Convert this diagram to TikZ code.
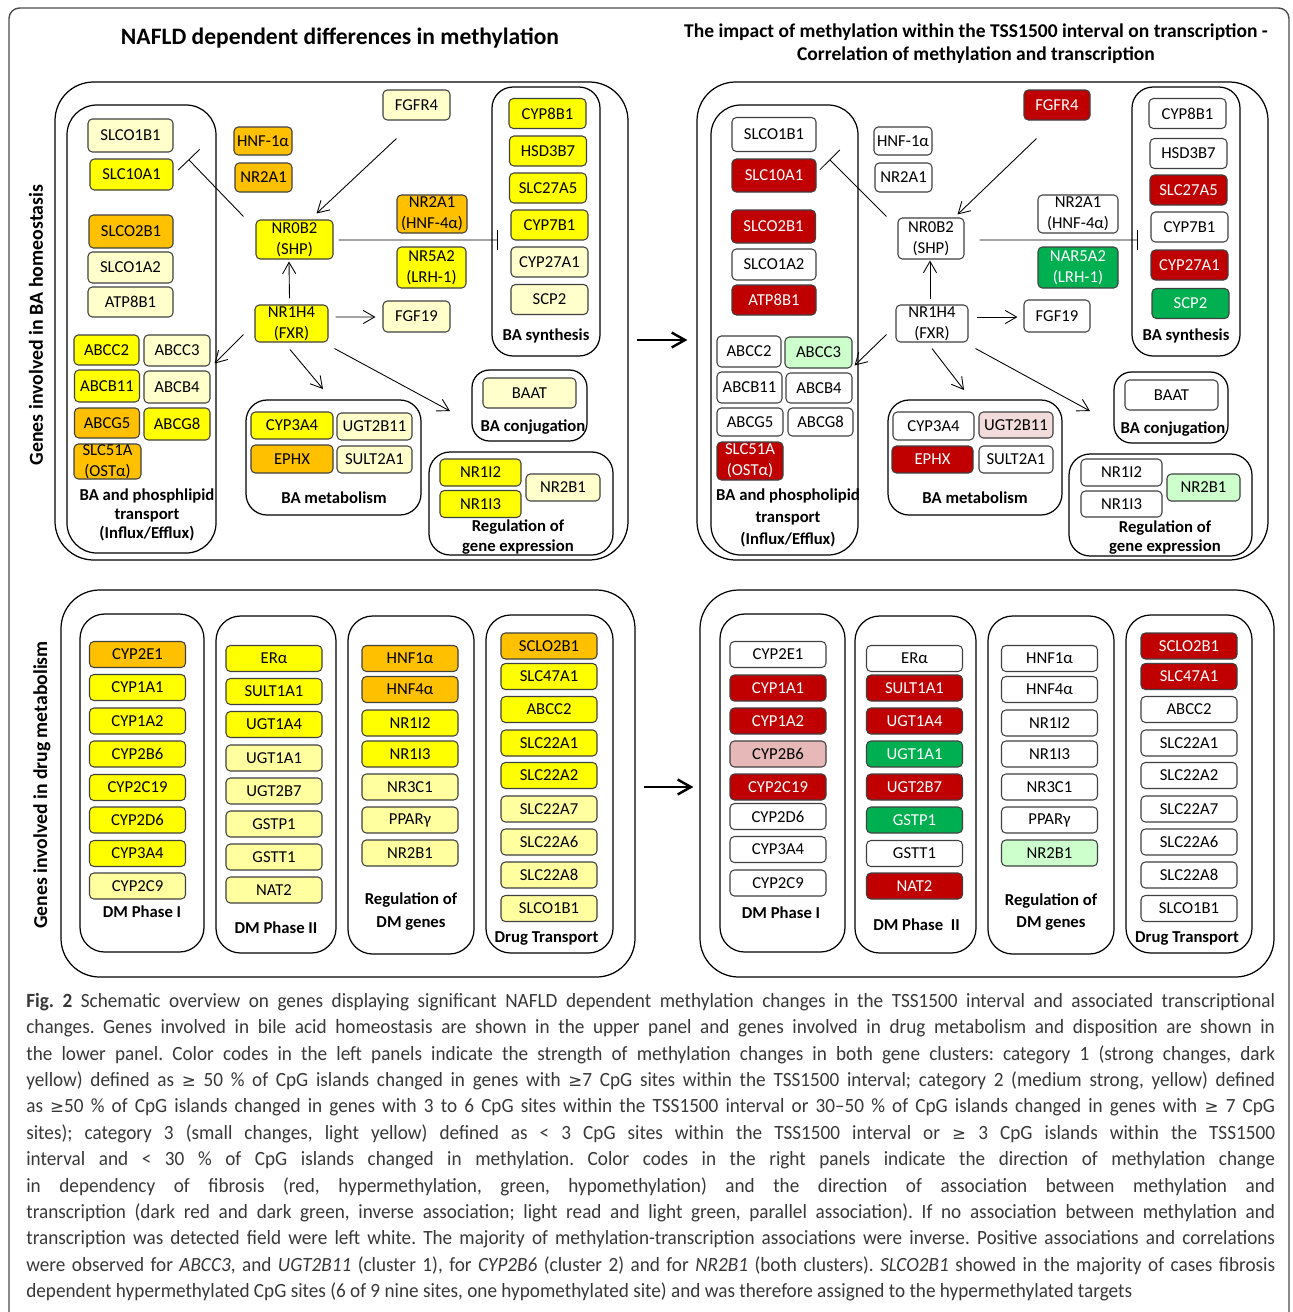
\documentclass[tikz,border=0pt]{standalone}
\usepackage{fontspec}
\setmainfont{Carlito}
\newfontfamily\capfont[FakeStretch=0.95]{Carlito}
\newfontfamily\symfont{DejaVu Sans}
\usetikzlibrary{arrows.meta}
\newcommand\pxu{0.02cm}
\newcommand\gesym{{\symfont\fontsize{9.5}{15}\selectfont ≥}}
\definecolor{dkyel}{RGB}{255,192,0}
\definecolor{yel}{RGB}{255,255,0}
\definecolor{ltyel}{RGB}{255,255,204}
\definecolor{ltyelb}{RGB}{255,255,160}
\definecolor{dkred}{RGB}{192,0,0}
\definecolor{dkgrn}{RGB}{0,176,80}
\definecolor{ltgrn}{RGB}{204,255,204}
\definecolor{ltred}{RGB}{230,185,184}
\definecolor{ltpink}{RGB}{242,220,219}

\begin{document}
\begin{tikzpicture}[x=0.02cm, y=-0.02cm,
  gene/.style={draw=black!75, line width=0.6pt, rounded corners=2.5pt, inner sep=0pt,
    align=center, font=\fontsize{9.5}{12}\selectfont},
  wh/.style 2 args={minimum width=#1*\pxu, minimum height=#2*\pxu},
  panel/.style={draw, line width=0.7pt, rounded corners=14pt},
  bigpanel/.style={draw, line width=0.7pt, rounded corners=22pt, inner sep=0pt},
  plabel/.style={font=\bfseries\fontsize{9.5}{11}\selectfont, align=center, inner sep=0pt},
  title/.style={font=\bfseries\fontsize{11.1}{13}\selectfont, align=center, inner sep=0pt},
  act/.style={-{Straight Barb[length=6.5pt,width=7.5pt]}, line width=0.5pt},
  inh/.style={-{Bar[width=#1]}, line width=0.5pt},
  big/.style={-{Straight Barb[length=7.5pt,width=8.5pt]}, line width=1.4pt},
  caption/.style={anchor=north west, inner sep=0pt, text width=24.98cm, align=justify,
    font=\capfont\fontsize{11.5}{15}\selectfont\frenchspacing, text=black!78}]

\clip (0,0) rectangle (1292,1312);
\fill[white] (0,0) rectangle (1292,1312);
\draw[black!70, line width=0.8pt, rounded corners=6pt] (9,1340) |- (1289,8) -- (1289,1340);

% titles
\node[title, font=\bfseries\fontsize{13.4}{15}\selectfont] (l-title) at (340,38) {NAFLD dependent differences in methylation};
\node[title] (r-title) at (976,44) {The impact of methylation within the TSS1500 interval on transcription -\\
  Correlation of methylation and transcription};
\node[title, rotate=90, font=\bfseries\fontsize{11.3}{13}\selectfont] (v-ba) at (36,325) {Genes involved in BA homeostasis};
\node[title, rotate=90, font=\bfseries\fontsize{11.2}{13}\selectfont] (v-dm) at (42,785) {Genes involved in drug metabolism};

% ---------- upper left panel
\node[bigpanel, wh={573}{478}] (l-top) at (341.5,321) {};
\draw[panel, rounded corners=17pt] (67,105) rectangle (216,553);
\draw[panel, rounded corners=12pt] (492,87) rectangle (600,356);
\draw[panel, rounded corners=10pt] (472,370) rectangle (587,441);
\draw[panel, rounded corners=12pt] (246,400) rectangle (421,515);
\draw[panel, rounded corners=12pt] (429,452) rectangle (613,555);

\node[gene, wh={85}{33}, fill=ltyel] (l-slco1b1) at (130.5,135.5) {SLCO1B1};
\node[gene, wh={83}{31}, fill=yel] (l-slc10a1) at (131.5,174.5) {SLC10A1};
\node[gene, wh={84}{33}, fill=dkyel] (l-slco2b1) at (131,231.5) {SLCO2B1};
\node[gene, wh={85}{31}, fill=ltyel] (l-slco1a2) at (130.5,267.5) {SLCO1A2};
\node[gene, wh={85}{30}, fill=ltyel] (l-atp8b1) at (130.5,302) {ATP8B1};
\node[gene, wh={65}{30}, fill=yel] (l-abcc2) at (106.5,350) {ABCC2};
\node[gene, wh={66}{31}, fill=ltyel] (l-abcc3) at (177,350.5) {ABCC3};
\node[gene, wh={65}{32}, fill=yel] (l-abcb11) at (107,386) {ABCB11};
\node[gene, wh={66}{32}, fill=ltyel] (l-abcb4) at (177,387) {ABCB4};
\node[gene, wh={65}{30}, fill=dkyel] (l-abcg5) at (107,423) {ABCG5};
\node[gene, wh={66}{32}, fill=yel] (l-abcg8) at (177,424) {ABCG8};
\node[gene, wh={67}{35}, fill=dkyel] (l-slc51a) at (107.5,461.5) {SLC51A\\(OSTα)};
\node[plabel, font=\bfseries\fontsize{9.5}{10.8}\selectfont] (l-lab-tr) at (147,515) {BA and phosphlipid\\transport\\(Influx/Efflux)};

\node[gene, wh={58}{28}, fill=dkyel] (l-hnf1a) at (263,141) {HNF-1α};
\node[gene, wh={57}{29}, fill=dkyel] (l-nr2a1) at (263.5,177.5) {NR2A1};
\node[gene, wh={67}{30}, fill=ltyel] (l-fgfr4) at (416.5,105) {FGFR4};
\node[gene, wh={77}{39}, fill=yel] (l-shp) at (294.5,239.5) {NR0B2\\(SHP)};
\node[gene, wh={70}{38}, fill=dkyel] (l-hnf4a) at (432,214) {NR2A1\\(HNF-4α)};
\node[gene, wh={69}{41}, fill=yel] (l-lrh1) at (431.5,267.5) {NR5A2\\(LRH-1)};
\node[gene, wh={73}{37}, fill=yel] (l-fxr) at (291.5,323.5) {NR1H4\\(FXR)};
\node[gene, wh={67}{31}, fill=ltyel] (l-fgf19) at (416.5,316.5) {FGF19};

\foreach \g/\c/\x/\y [count=\i] in {CYP8B1/yel/547.5/113.5, HSD3B7/yel/548/151,
    SLC27A5/yel/548/188, CYP7B1/yel/549.5/225, CYP27A1/ltyel/549.5/262, SCP2/ltyel/549.5/299.5}
  \node[gene, wh={77}{30}, fill=\c] (l-syn\i) at (\x,\y) {\g};
\node[plabel] (l-lab-syn) at (546,336) {BA synthesis};

\node[gene, wh={93}{30}, fill=ltyel] (l-baat) at (529.5,393) {BAAT};
\node[plabel] (l-lab-conj) at (533,427) {BA conjugation};

\node[gene, wh={82}{27}, fill=yel] (l-cyp3a4) at (292,425.5) {CYP3A4};
\node[gene, wh={75}{27}, fill=ltyel] (l-ugt2b11) at (374.5,426.5) {UGT2B11};
\node[gene, wh={82}{28}, fill=dkyel] (l-ephx) at (292,459) {EPHX};
\node[gene, wh={75}{27}, fill=ltyel] (l-sult2a1) at (374.5,459.5) {SULT2A1};
\node[plabel] (l-lab-met) at (334,498) {BA metabolism};

\node[gene, wh={81}{27}, fill=yel] (l-nr1i2) at (480.5,472.5) {NR1I2};
\node[gene, wh={81}{27}, fill=yel] (l-nr1i3) at (480.5,504) {NR1I3};
\node[gene, wh={74}{27}, fill=ltyel] (l-nr2b1) at (563,487.5) {NR2B1};
\node[plabel, font=\bfseries\fontsize{9.5}{11.3}\selectfont] (l-lab-reg) at (518,537) {Regulation of\\gene expression};

\coordinate (l-syn-in) at (498,240);
\coordinate (l-met-in) at (323,389);
\coordinate (l-conj-in) at (450,411);
\draw[inh=17pt] ([shift={(-12,-3)}]l-shp.north west) -- ([shift={(15,1)}]l-slc10a1.north east);
\draw[act] ([shift={(14,18)}]l-fgfr4.south west) -- ([shift={(-17,-6)}]l-shp.north east);
\draw[act] ([shift={(-2,-6)}]l-fxr.north) -- ([shift={(-5.5,2)}]l-shp.south);
\draw[inh=11pt] ([shift={(5,0.5)}]l-shp.east) -- (l-syn-in);
\draw[act] ([shift={(7,-6.5)}]l-fxr.east) -- ([shift={(-7,0.5)}]l-fgf19.west);
\draw[act] ([shift={(-11,-8)}]l-fxr.south west) -- ([shift={(4,-3)}]l-abcc3.south east);
\draw[act] ([shift={(-1.5,7)}]l-fxr.south) -- (l-met-in);
\draw[act] ([shift={(6,6)}]l-fxr.south east) -- (l-conj-in);

% ---------- upper right panel
\node[bigpanel, wh={571}{478}] (r-top) at (982.5,321) {};
\draw[panel, rounded corners=17pt] (711,105) rectangle (858,555);
\draw[panel, rounded corners=12pt] (1132,87) rectangle (1240,356);
\draw[panel, rounded corners=10pt] (1114,372) rectangle (1228,443);
\draw[panel, rounded corners=12pt] (888,400) rectangle (1062,515);
\draw[panel, rounded corners=12pt] (1069,454) rectangle (1252,556);

\node[gene, wh={84}{34}, fill=white] (r-slco1b1) at (774,134.5) {SLCO1B1};
\node[gene, wh={84}{33}, fill=dkred, text=white] (r-slc10a1) at (774,175.5) {SLC10A1};
\node[gene, wh={84}{33}, fill=dkred, text=white] (r-slco2b1) at (773.5,226.5) {SLCO2B1};
\node[gene, wh={84}{31}, fill=white] (r-slco1a2) at (774,264.5) {SLCO1A2};
\node[gene, wh={84}{30}, fill=dkred, text=white] (r-atp8b1) at (774,300) {ATP8B1};
\node[gene, wh={64}{31}, fill=white] (r-abcc2) at (749,351.5) {ABCC2};
\node[gene, wh={67}{31}, fill=ltgrn] (r-abcc3) at (818.5,352.5) {ABCC3};
\node[gene, wh={65}{31}, fill=white] (r-abcb11) at (749.5,387.5) {ABCB11};
\node[gene, wh={66}{30}, fill=white] (r-abcb4) at (819,388) {ABCB4};
\node[gene, wh={66}{28}, fill=white] (r-abcg5) at (750,422) {ABCG5};
\node[gene, wh={65}{28}, fill=white] (r-abcg8) at (820.5,422) {ABCG8};
\node[gene, wh={66}{38}, fill=dkred, text=white] (r-slc51a) at (750,461) {SLC51A\\(OSTα)};
\node[plabel, font=\bfseries\fontsize{9.5}{12.7}\selectfont] (r-lab-tr) at (788,518) {BA and phospholipid\\transport\\(Influx/Efflux)};

\node[gene, wh={58}{28}, fill=white] (r-hnf1a) at (903,141) {HNF-1α};
\node[gene, wh={57}{29}, fill=white] (r-nr2a1) at (903.5,177.5) {NR2A1};
\node[gene, wh={66}{30}, fill=dkred, text=white] (r-fgfr4) at (1057,105) {FGFR4};
\node[gene, wh={66}{41}, fill=white] (r-shp) at (931,238.5) {NR0B2\\(SHP)};
\node[gene, wh={80}{38}, fill=white] (r-hnf4a) at (1078,214) {NR2A1\\(HNF-4α)};
\node[gene, wh={80}{41}, fill=dkgrn, text=white] (r-lrh1) at (1078,267.5) {NAR5A2\\(LRH-1)};
\node[gene, wh={72}{37}, fill=white] (r-fxr) at (932,323.5) {NR1H4\\(FXR)};
\node[gene, wh={66}{32}, fill=white] (r-fgf19) at (1057,316) {FGF19};

\foreach \g/\c/\tc/\x/\y [count=\i] in {CYP8B1/white/black/1187.5/113.5, HSD3B7/white/black/1188.5/153.5,
    SLC27A5/dkred/white/1188.5/190, CYP7B1/white/black/1189.5/227,
    CYP27A1/dkred/white/1189.5/265, SCP2/dkgrn/white/1190.5/303.5}
  \node[gene, wh={77}{30}, fill=\c, text=\tc] (r-syn\i) at (\x,\y) {\g};
\node[plabel] (r-lab-syn) at (1186,336) {BA synthesis};

\node[gene, wh={93}{30}, fill=white] (r-baat) at (1171.5,395) {BAAT};
\node[plabel] (r-lab-conj) at (1173,429) {BA conjugation};

\node[gene, wh={81}{28}, fill=white] (r-cyp3a4) at (933.5,426) {CYP3A4};
\node[gene, wh={74}{26}, fill=ltpink] (r-ugt2b11) at (1016,425) {UGT2B11};
\node[gene, wh={81}{27}, fill=dkred, text=white] (r-ephx) at (932.5,459.5) {EPHX};
\node[gene, wh={74}{27}, fill=white] (r-sult2a1) at (1016,459.5) {SULT2A1};
\node[plabel] (r-lab-met) at (975,498) {BA metabolism};

\node[gene, wh={81}{27}, fill=white] (r-nr1i2) at (1121.5,472.5) {NR1I2};
\node[gene, wh={81}{26}, fill=white] (r-nr1i3) at (1121.5,504) {NR1I3};
\node[gene, wh={73}{27}, fill=ltgrn] (r-nr2b1) at (1203.5,487.5) {NR2B1};
\node[plabel, font=\bfseries\fontsize{9.5}{11.3}\selectfont] (r-lab-reg) at (1165,537.5) {Regulation of\\gene expression};

\coordinate (r-syn-in) at (1138,240);
\coordinate (r-met-in) at (964,390);
\coordinate (r-conj-in) at (1090,411);
\draw[inh=16pt] ([shift={(-11,-1)}]r-shp.north west) -- ([shift={(13,1)}]r-slc10a1.north east);
\draw[act] ([shift={(13,18)}]r-fgfr4.south west) -- ([shift={(-7,-3)}]r-shp.north east);
\draw[act] ([shift={(-2,-5)}]r-fxr.north) -- ([shift={(-1,1)}]r-shp.south);
\draw[inh=11pt] ([shift={(15,1.5)}]r-shp.east) -- (r-syn-in);
\draw[act] ([shift={(8,-6.5)}]r-fxr.east) -- ([shift={(-6,1)}]r-fgf19.west);
\draw[act] ([shift={(-9,-8)}]r-fxr.south west) -- ([shift={(2,-3)}]r-abcc3.south east);
\draw[act] ([shift={(0,6)}]r-fxr.south) -- (r-met-in);
\draw[act] ([shift={(7,6)}]r-fxr.south east) -- (r-conj-in);

\draw[big] ([shift={(8,19)}]l-top.east) -- ([shift={(-9,19)}]r-top.west);

% ---------- lower left panel
\node[bigpanel, wh={574}{387}] (l-dm) at (348,783.5) {};
\draw[panel] (80,614) rectangle (204,952);
\draw[panel] (216,616) rectangle (336,953);
\draw[panel] (348,616) rectangle (474,954);
\draw[panel] (486,615) rectangle (613,953);

\foreach \g/\c/\y [count=\i] in {CYP2E1/dkyel/654.5, CYP1A1/yel/687.5, CYP1A2/yel/721, CYP2B6/yel/754,
    CYP2C19/yel/787.5, CYP2D6/yel/820, CYP3A4/yel/853.5, CYP2C9/ltyelb/886}
  \node[gene, wh={96}{26}, fill=\c] (l-p1-\i) at (137.5,\y) {\g};
\foreach \g/\c/\y [count=\i] in {ERα/yel/658.5, SULT1A1/yel/691.5, UGT1A4/yel/724.5, UGT1A1/ltyelb/758,
    UGT2B7/ltyelb/791, GSTP1/ltyelb/824, GSTT1/ltyelb/857, NAT2/ltyelb/890}
  \node[gene, wh={96}{26}, fill=\c] (l-p2-\i) at (274,\y) {\g};
\foreach \g/\c/\y [count=\i] in {HNF1α/dkyel/658.5, HNF4α/dkyel/689.5, NR1I2/yel/723, NR1I3/yel/754,
    NR3C1/ltyelb/787, PPARγ/ltyelb/820, NR2B1/ltyelb/853}
  \node[gene, wh={96}{26}, fill=\c] (l-rg-\i) at (410,\y) {\g};
\foreach \g/\c/\y [count=\i] in {SCLO2B1/dkyel/646, SLC47A1/yel/676.5, ABCC2/yel/709.5, SLC22A1/yel/743,
    SLC22A2/yel/775.5, SLC22A7/ltyelb/809, SLC22A6/ltyelb/842, SLC22A8/ltyelb/875, SLCO1B1/ltyelb/908.5}
  \node[gene, wh={96}{26}, fill=\c] (l-dt-\i) at (549,\y) {\g};

\node[plabel] (l-lab-p1) at (142,912) {DM Phase I};
\node[plabel] (l-lab-p2) at (276,928) {DM Phase II};
\node[plabel, font=\bfseries\fontsize{9.5}{13}\selectfont] (l-lab-rg) at (411,911.5) {Regulation of\\DM genes};
\node[plabel] (l-lab-dt) at (546.5,938) {Drug Transport};

% ---------- lower right panel
\node[bigpanel, wh={574}{387}] (r-dm) at (987,783.5) {};
\draw[panel] (720,614) rectangle (845,952);
\draw[panel] (855,616) rectangle (976,953);
\draw[panel] (988,616) rectangle (1114,954);
\draw[panel] (1126,615) rectangle (1252,953);

\foreach \g/\c/\tc/\y [count=\i] in {CYP2E1/white/black/654.5, CYP1A1/dkred/white/688, CYP1A2/dkred/white/721,
    CYP2B6/ltred/black/754, CYP2C19/dkred/white/787, CYP2D6/white/black/816.5,
    CYP3A4/white/black/849.5, CYP2C9/white/black/883}
  \node[gene, wh={96}{26}, fill=\c, text=\tc] (r-p1-\i) at (778,\y) {\g};
\foreach \g/\c/\tc/\y [count=\i] in {ERα/white/black/658.5, SULT1A1/dkred/white/688, UGT1A4/dkred/white/721,
    UGT1A1/dkgrn/white/754, UGT2B7/dkred/white/787, GSTP1/dkgrn/white/820,
    GSTT1/white/black/853.5, NAT2/dkred/white/886}
  \node[gene, wh={96}{26}, fill=\c, text=\tc] (r-p2-\i) at (914.5,\y) {\g};
\foreach \g/\c/\y [count=\i] in {HNF1α/white/658.5, HNF4α/white/689.5, NR1I2/white/723, NR1I3/white/754,
    NR3C1/white/787, PPARγ/white/820, NR2B1/ltgrn/853}
  \node[gene, wh={96}{26}, fill=\c] (r-rg-\i) at (1049.5,\y) {\g};
\foreach \g/\c/\tc/\y [count=\i] in {SCLO2B1/dkred/white/646, SLC47A1/dkred/white/676.5, ABCC2/white/black/709.5,
    SLC22A1/white/black/743, SLC22A2/white/black/775.5, SLC22A7/white/black/809,
    SLC22A6/white/black/842, SLC22A8/white/black/875, SLCO1B1/white/black/908.5}
  \node[gene, wh={96}{26}, fill=\c, text=\tc] (r-dt-\i) at (1189,\y) {\g};

\node[plabel] (r-lab-p1) at (781,913) {DM Phase I};
\node[plabel] (r-lab-p2) at (916.5,925) {DM Phase~~II};
\node[plabel, font=\bfseries\fontsize{9.5}{13}\selectfont] (r-lab-rg) at (1051,912) {Regulation of\\DM genes};
\node[plabel] (r-lab-dt) at (1187,938) {Drug Transport};

\draw[big] ([shift={(8,3.5)}]l-dm.east) -- ([shift={(-6,3.5)}]r-dm.west);

% ---------- caption
\node[caption] (cap) at (26,993) {\textbf{Fig.~2} Schematic overview on genes displaying significant NAFLD dependent methylation changes in the TSS1500 interval and associated transcriptional\linebreak
changes. Genes involved in bile acid homeostasis are shown in the upper panel and genes involved in drug metabolism and disposition are shown in\linebreak
the lower panel. Color codes in the left panels indicate the strength of methylation changes in both gene clusters: category 1 (strong changes, dark\linebreak
yellow) defined as \gesym{} 50 \% of CpG islands changed in genes with \gesym 7 CpG sites within the TSS1500 interval; category 2 (medium strong, yellow) defined\linebreak
as \gesym 50 \% of CpG islands changed in genes with 3 to 6 CpG sites within the TSS1500 interval or 30–50 \% of CpG islands changed in genes with \gesym{} 7 CpG\linebreak
sites); category 3 (small changes, light yellow) defined as < 3 CpG sites within the TSS1500 interval or \gesym{} 3 CpG islands within the TSS1500\linebreak
interval and < 30 \% of CpG islands changed in methylation. Color codes in the right panels indicate the direction of methylation change\linebreak
in dependency of fibrosis (red, hypermethylation, green, hypomethylation) and the direction of association between methylation and\linebreak
transcription (dark red and dark green, inverse association; light read and light green, parallel association). If no association between methylation and\linebreak
transcription was detected field were left white. The majority of methylation-transcription associations were inverse. Positive associations and correlations\linebreak
were observed for \textit{ABCC3}, and \textit{UGT2B11} (cluster 1), for \textit{CYP2B6} (cluster 2) and for \textit{NR2B1} (both clusters). \textit{SLCO2B1} showed in the majority of cases fibrosis\linebreak
dependent hypermethylated CpG sites (6 of 9 nine sites, one hypomethylated site) and was therefore assigned to the hypermethylated targets};
\end{tikzpicture}
\end{document}
